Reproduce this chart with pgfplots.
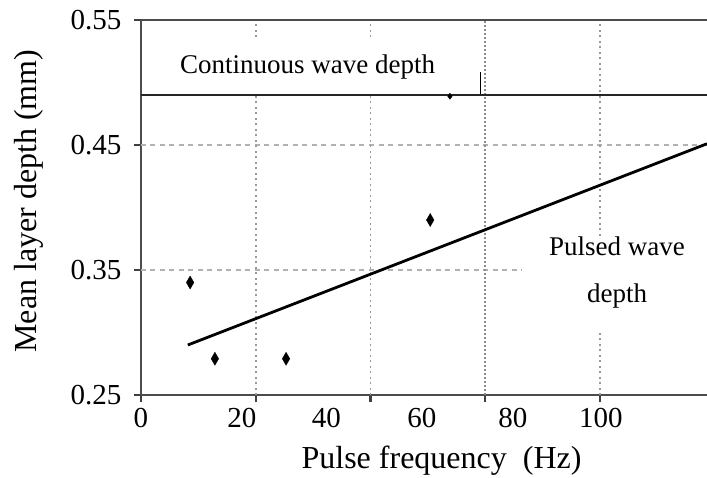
\documentclass[border=0pt]{standalone}
\usepackage{pgfplots}
\pgfplotsset{compat=1.18}
\usepackage{fontspec}
\setmainfont{Liberation Serif}
\begin{document}
\begin{tikzpicture}
\begin{axis}[name=ax,
  scale only axis, width=566pt, height=375pt,
  xmin=0, xmax=123.3, ymin=0.25, ymax=0.55,
  axis x line=bottom, axis y line=left,
  axis line style={-, line width=2.2pt, black!70},
  tick align=outside, major tick length=7pt,
  tick style={line width=2.4pt, black!75},
  xtick={0,25,50,75,100}, xticklabels={},
  extra x ticks={0,22,40.4,61.2,81,100.2},
  extra x tick labels={0,20,40,60,80,100},
  extra x tick style={major tick length=0pt, tick style={draw=none}},
  ytick={0.25,0.35,0.45,0.55}, yticklabels={0.25,0.35,0.45,0.55},
  /pgf/number format/assume math mode=true,
  tick label style={font=\fontsize{29}{32}\selectfont},
  xticklabel style={yshift=-10pt},
  yticklabel style={xshift=-9pt},
  xlabel={Pulse frequency\ \ (Hz)},
  ylabel={Mean layer depth (mm)},
  label style={font=\fontsize{32}{36}\selectfont},
  xlabel style={at={(axis description cs:0.531,0)}, anchor=base, yshift=-73pt},
  ylabel style={at={(axis description cs:-0.198,0.517)}, anchor=center},
  clip=false,
]
% grid lines
\addplot[gray!60, dash pattern=on 5pt off 4.5pt, line width=1.8pt] coordinates {(0,0.45)(123.3,0.45)};
\addplot[gray!60, dash pattern=on 5pt off 4.5pt, line width=1.8pt] coordinates {(0,0.35)(83,0.35)};
\addplot[gray!80, dash pattern=on 2pt off 3.5pt, line width=1.5pt] coordinates {(25,0.25)(25,0.55)};
\addplot[gray!80, dash pattern=on 2pt off 3.5pt, line width=1.5pt] coordinates {(50,0.25)(50,0.55)};
\addplot[gray!90, dash pattern=on 2pt off 2pt, line width=1.8pt] coordinates {(75,0.25)(75,0.55)};
\addplot[gray!80, dash pattern=on 2pt off 3.5pt, line width=1.5pt] coordinates {(100,0.25)(100,0.55)};
% white boxes behind labels
\fill[white] (axis cs:0.5,0.4915) rectangle (axis cs:73.7,0.5365);
\node[fill=white, inner sep=2pt, minimum width=135pt, minimum height=92pt] at (axis cs:103.7,0.3395) {};
\node[anchor=base, font=\fontsize{27}{30}\selectfont] at (axis cs:36.3,0.5068) {Continuous wave depth};
\node[anchor=base, font=\fontsize{27}{30}\selectfont] at (axis cs:103.7,0.362) {Pulsed wave};
\node[anchor=base, font=\fontsize{27}{30}\selectfont] at (axis cs:103.7,0.3244) {depth};
% top border
\addplot[black!70, line width=2.2pt] coordinates {(0,0.55)(123.3,0.55)};
% small marks near continuous line
\addplot[black, line width=0.8pt] coordinates {(73.9,0.49)(73.9,0.508)};
\addplot[only marks, mark=diamond*, mark size=3pt, black] coordinates {(67.3,0.489)};
% continuous wave depth
\addplot[black!85, line width=2.2pt] coordinates {(0,0.49)(123.3,0.49)};
% pulsed wave trend
\addplot[black, line width=2.8pt] coordinates {(10.2,0.29)(123.3,0.451)};
% data points
\addplot[only marks, mark=diamond*, mark size=5pt, mark options={yscale=1.3}, black] coordinates {
(10.7,0.34) (16.1,0.279) (31.6,0.279) (63.0,0.39)};
\end{axis}
\pgfresetboundingbox
\path ([xshift=-141pt,yshift=-82pt]ax.south west) rectangle ([yshift=20pt]ax.north east);
\end{tikzpicture}
\end{document}
